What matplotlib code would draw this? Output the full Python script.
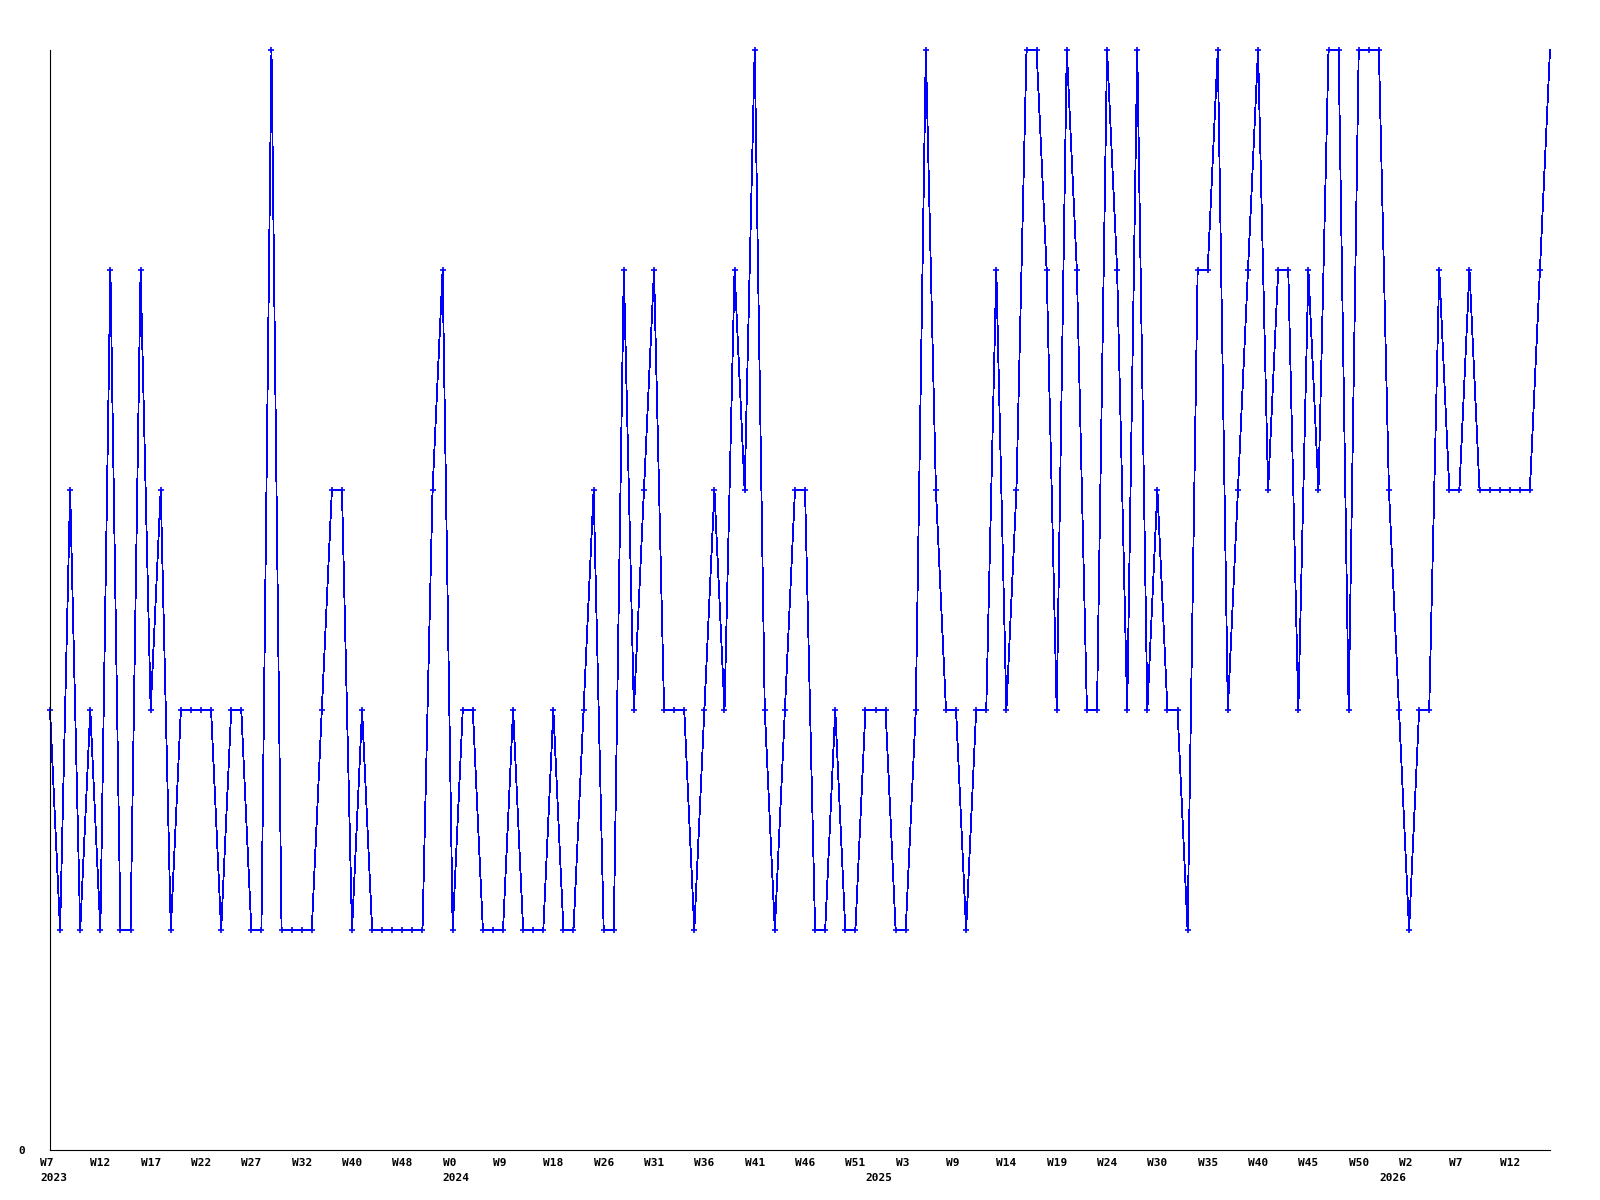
import matplotlib
matplotlib.use('Agg')
import matplotlib.pyplot as plt

# weekly values, one per point
values = [2, 1, 3, 1, 2, 1, 4, 1, 1, 4,
          2, 3, 1, 2, 2, 2, 2, 1, 2, 2,
          1, 1, 5, 1, 1, 1, 1, 2, 3, 3,
          1, 2, 1, 1, 1, 1, 1, 1, 3, 4,
          1, 2, 2, 1, 1, 1, 2, 1, 1, 1,
          2, 1, 1, 2, 3, 1, 1, 4, 2, 3,
          4, 2, 2, 2, 1, 2, 3, 2, 4, 3,
          5, 2, 1, 2, 3, 3, 1, 1, 2, 1,
          1, 2, 2, 2, 1, 1, 2, 5, 3, 2,
          2, 1, 2, 2, 4, 2, 3, 5, 5, 4,
          2, 5, 4, 2, 2, 5, 4, 2, 5, 2,
          3, 2, 2, 1, 4, 4, 5, 2, 3, 4,
          5, 3, 4, 4, 2, 4, 3, 5, 5, 2,
          5, 5, 5, 3, 2, 1, 2, 2, 4, 3,
          3, 4, 3, 3, 3, 3, 3, 3, 4, 5]

# week label at every 5th point
week_labels = ['W7', 'W12', 'W17', 'W22', 'W27', 'W32', 'W40', 'W48', 'W0', 'W9',
               'W18', 'W26', 'W31', 'W36', 'W41', 'W46', 'W51', 'W3', 'W9', 'W14',
               'W19', 'W24', 'W30', 'W35', 'W40', 'W45', 'W50', 'W2', 'W7', 'W12']
year_labels = ['2023', '2024', '2025', '2026']
year_index = [0, 40, 82, 133]

FONT = dict(family='DejaVu Sans Mono', fontsize=8, weight='bold', color='black')

fig = plt.figure(figsize=(16, 12), dpi=100, facecolor='white')
ax = fig.add_axes([50 / 1600, 50 / 1200, 1500 / 1600, 1100 / 1200])

x = list(range(len(values)))
ax.plot(x, values, color='#0000ff', linewidth=0.6, antialiased=False,
        marker='+', markersize=4, markeredgewidth=1.2,
        markevery=slice(0, len(values) - 1), clip_on=False)

ax.set_xlim(0, len(values) - 1)
ax.set_ylim(0, 5)

for side in ['top', 'right']:
    ax.spines[side].set_visible(False)
for side in ['left', 'bottom']:
    ax.spines[side].set_linewidth(0.8)
    ax.spines[side].set_color('black')

ax.set_xticks([])
ax.set_yticks([0])
ax.set_yticklabels(['0'], **FONT)
ax.tick_params(axis='y', length=0, pad=18)

for i, lab in enumerate(week_labels):
    ax.annotate(lab, xy=(i * 5, 0), xycoords=('data', 'axes fraction'),
                xytext=(-10, -8), textcoords='offset pixels',
                ha='left', va='top', **FONT)
for i, lab in zip(year_index, year_labels):
    ax.annotate(lab, xy=(i, 0), xycoords=('data', 'axes fraction'),
                xytext=(-10, -23), textcoords='offset pixels',
                ha='left', va='top', **FONT)

fig.savefig('out.png', dpi=100, facecolor='white')
